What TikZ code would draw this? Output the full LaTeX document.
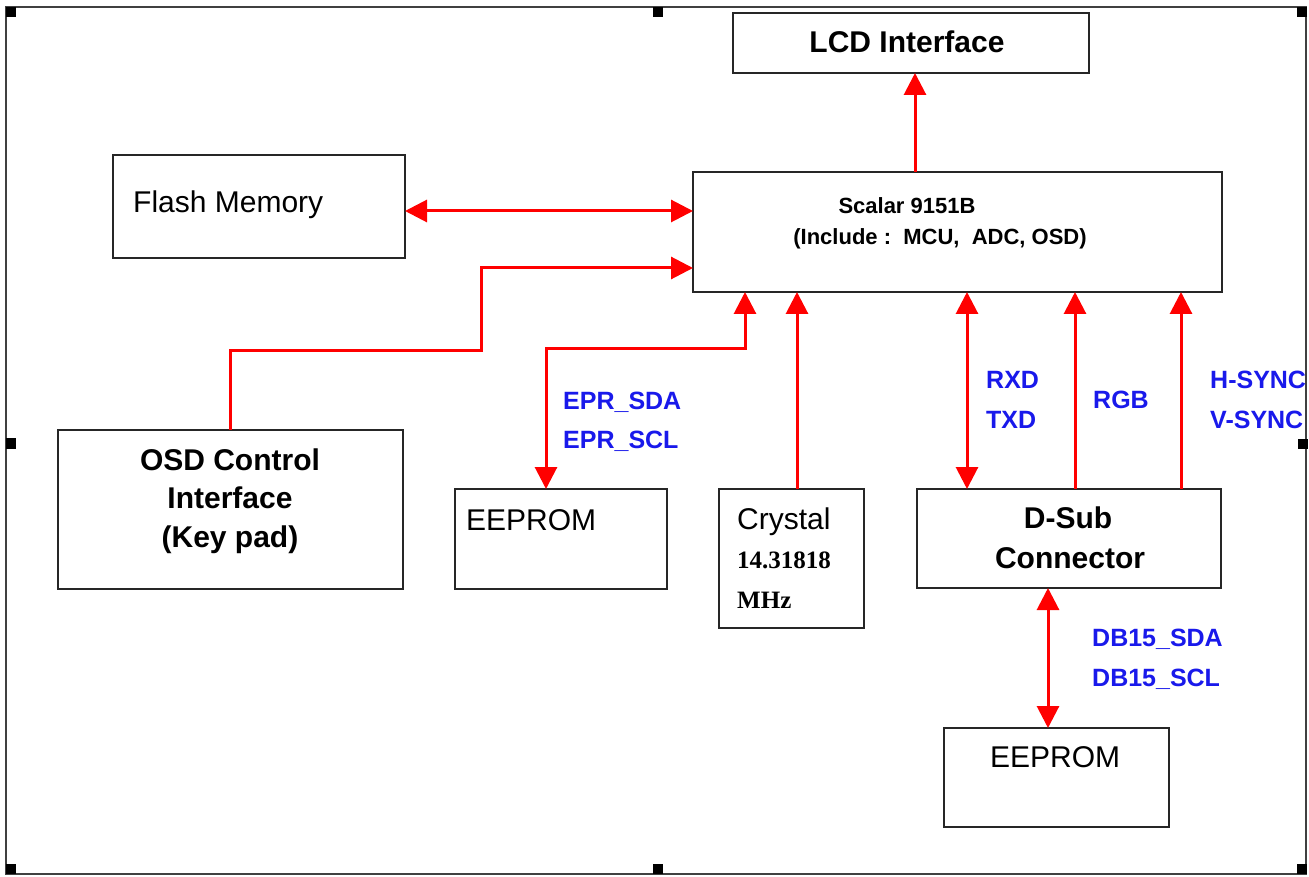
\documentclass[tikz,border=0pt]{standalone}
\usepackage{fontspec}
\setmainfont{Liberation Sans}
\newfontfamily\tms{Liberation Serif}
\usetikzlibrary{arrows.meta}
\definecolor{lblue}{RGB}{25,25,235}
\definecolor{lred}{RGB}{255,0,0}
\begin{document}
\begin{tikzpicture}[x=1pt,y=-1pt,
  box/.style={draw=black!85,line width=1.8pt,inner sep=0pt,outer sep=0pt,fill=none},
  ln/.style={draw=lred,line width=3pt},
  arr/.style={ln,-{Triangle[width=22pt,length=22pt]}},
  arrb/.style={ln,{Triangle[width=22pt,length=22pt]}-{Triangle[width=22pt,length=22pt]}},
  tb/.style={inner sep=0pt,font=\fontsize{30}{36}\selectfont\bfseries,text height=21.5pt,text depth=0pt},
  tr/.style={inner sep=0pt,font=\fontsize{30}{36}\selectfont,text height=21.5pt,text depth=0pt},
  ts/.style={inner sep=0pt,font=\fontsize{22}{26}\selectfont\bfseries,text height=15.8pt,text depth=0pt},
  tl/.style={inner sep=0pt,font=\fontsize{25}{30}\selectfont\bfseries,text=lblue,text height=17.9pt,text depth=0pt,anchor=west},
  tt/.style={inner sep=0pt,font=\fontsize{25}{30}\selectfont\tms\bfseries,text height=16.5pt,text depth=0pt,anchor=west},
  hdl/.style={fill=black}]
\useasboundingbox (0,0) rectangle (1309,877);
\fill[white] (0,0) rectangle (1309,877);
% frame and handles
\draw[black!75,line width=1.6pt] (6,7) rectangle (1306,874);
\fill[hdl] (6,7) rectangle (16,17);
\fill[hdl] (653,7) rectangle (663,17);
\fill[hdl] (1297,7) rectangle (1307,17);
\fill[hdl] (6,438) rectangle (16,449);
\fill[hdl] (1298,439) rectangle (1308,449);
\fill[hdl] (6,864) rectangle (16,874);
\fill[hdl] (653,864) rectangle (663,874);
\fill[hdl] (1297,864) rectangle (1307,874);
% boxes
\node[box,minimum width=356pt,minimum height=60pt] (lcd) at (911,43) {};
\node[box,minimum width=292pt,minimum height=103pt] (flash) at (259,206.5) {};
\node[box,minimum width=529pt,minimum height=120pt] (scalar) at (957.5,232) {};
\node[box,minimum width=345pt,minimum height=159pt] (osd) at (230.5,509.5) {};
\node[box,minimum width=212pt,minimum height=100pt] (ee1) at (561,539) {};
\node[box,minimum width=145pt,minimum height=139pt] (xtal) at (791.5,558.5) {};
\node[box,minimum width=304pt,minimum height=99pt] (dsub) at (1069,538.5) {};
\node[box,minimum width=225pt,minimum height=99pt] (ee2) at (1056.5,777.5) {};
% texts
\node[tb] (lcdT) at (907,42) {LCD Interface};
\node[tr,anchor=west] (flashT) at (133,202) {Flash Memory};
\node[ts] (scT1) at (907,206) {Scalar 9151B};
\node[ts] (scT2) at (940,237) {(Include :\ \ MCU,\ \ ADC, OSD)};
\node[tb] (osdT1) at (230,460) {OSD Control};
\node[tb] (osdT2) at (230,498) {Interface};
\node[tb] (osdT3) at (230,537) {(Key pad)};
\node[tr,anchor=west] (ee1T) at (466,520) {EEPROM};
\node[tr,anchor=west] (xtT1) at (737,519) {Crystal};
\node[tt] (xtT2) at (737,560) {14.31818};
\node[tt] (xtT3) at (737,600) {MHz};
\node[tb] (dsT1) at (1068,518) {D-Sub};
\node[tb] (dsT2) at (1070,558) {Connector};
\node[tr,anchor=west] (ee2T) at (990,757) {EEPROM};
% labels
\node[tl] (l1) at (563,401) {EPR\_SDA};
\node[tl] (l2) at (563,440) {EPR\_SCL};
\node[tl] (l3) at (986,380) {RXD};
\node[tl] (l4) at (986,420) {TXD};
\node[tl] (l5) at (1093,400) {RGB};
\node[tl] (l6) at (1210,380) {H-SYNC};
\node[tl] (l7) at (1210,420) {V-SYNC};
\node[tl] (l8) at (1092,638) {DB15\_SDA};
\node[tl] (l9) at (1092,678) {DB15\_SCL};
% helper coordinates
\coordinate (cLcd) at (915,0);
\coordinate (cFl) at (0,211);
\coordinate (kO) at (481,350);
\coordinate (kO2) at (0,268);
\coordinate (cE) at (745,0);
\coordinate (kE) at (546,348);
\coordinate (cX) at (797,0);
\coordinate (cR) at (967,0);
\coordinate (cG) at (1075,0);
\coordinate (cH) at (1181,0);
\coordinate (cD) at (1048,0);
% connectors
\draw[arr] (scalar.north -| cLcd) -- (lcd.south -| cLcd);
\draw[arrb] (flash.east |- cFl) -- (scalar.west |- cFl);
\draw[arr] (osd.north) |- (kO) |- (scalar.west |- kO2);
\draw[arrb] (scalar.south -| cE) |- (kE) -- (ee1.north -| kE);
\draw[arr] (xtal.north -| cX) -- (scalar.south -| cX);
\draw[arrb] (dsub.north -| cR) -- (scalar.south -| cR);
\draw[arr] (dsub.north -| cG) -- (scalar.south -| cG);
\draw[arr] (dsub.north -| cH) -- (scalar.south -| cH);
\draw[arrb] (dsub.south -| cD) -- (ee2.north -| cD);
\end{tikzpicture}
\end{document}
